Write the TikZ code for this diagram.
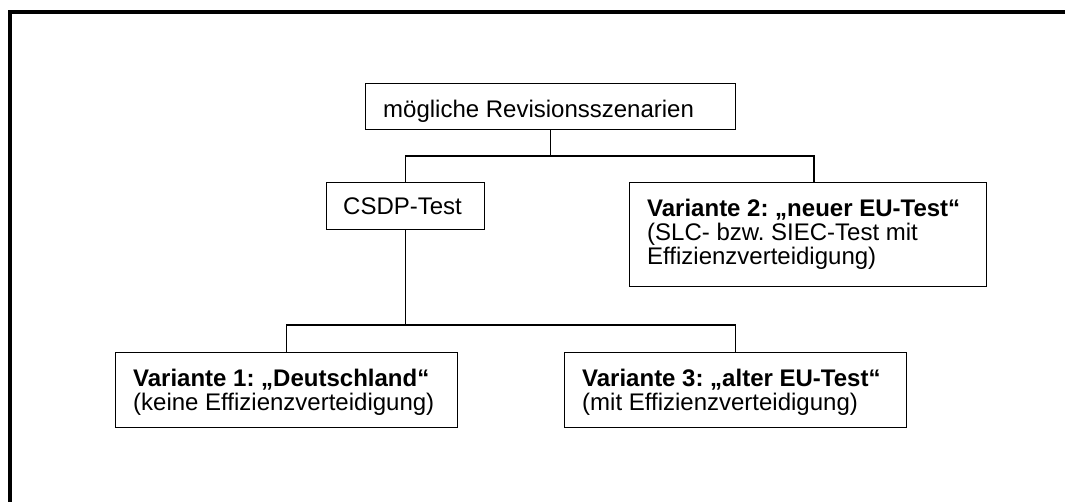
\documentclass[tikz,border=0pt]{standalone}
\usepackage{fontspec}
\setmainfont{Liberation Sans}
\begin{document}
\frenchspacing
\begin{tikzpicture}[x=1pt,y=-1pt,
  box/.style={draw=black,line width=1.2pt,anchor=north west,inner sep=0pt},
  txt/.style={anchor=north west,inner sep=0pt,align=left,
    font=\fontsize{24}{24}\selectfont\frenchspacing},
  conn/.style={draw=black,line width=1.2pt}]
\useasboundingbox (0,0) rectangle (1065,501);
% outer frame (left and top edges visible)
\draw[line width=3.5pt] (10,505) -- (10,12) -- (1070,12);
% boxes
\node[box,minimum width=370pt,minimum height=46pt] (root) at (365,83) {};
\node[box,minimum width=158pt,minimum height=47pt] (csdp) at (326,182) {};
\node[box,minimum width=357pt,minimum height=104pt] (v2) at (629,182) {};
\node[box,minimum width=342pt,minimum height=75pt] (v1) at (115,352) {};
\node[box,minimum width=342pt,minimum height=75pt] (v3) at (564,352) {};
% texts
\node[txt] (troot) at (383,99.8) {mögliche Revisionsszenarien};
\node[txt] (tcsdp) at (343,197.8) {CSDP-Test};
\node[txt] (tv2) at (647,198.8) {\textbf{Variante 2: „neuer EU-Test“}\\(SLC- bzw. SIEC-Test mit\\Effizienzverteidigung)};
\node[txt] (tv1) at (133,368.8) {\textbf{Variante 1: „Deutschland“}\\(keine Effizienzverteidigung)};
\node[txt] (tv3) at (582,368.8) {\textbf{Variante 3: „alter EU-Test“}\\(mit Effizienzverteidigung)};
% connectors
\coordinate (j1) at (root.south |- 0,156);
\coordinate (j2) at (csdp.south |- 0,325);
\draw[conn] (root.south) -- (j1);
\draw[conn] (csdp.north) |- (j1) -| (814,182);
\draw[conn] (csdp.south) -- (j2);
\draw[conn] (v1.north) |- (j2) -| (v3.north);
\end{tikzpicture}
\end{document}
